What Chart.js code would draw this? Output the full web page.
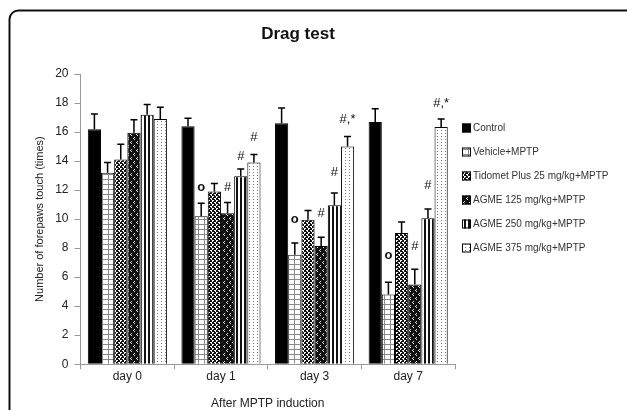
<!DOCTYPE html>
<html lang="en">
<head>
<meta charset="UTF-8">
<title>Drag test</title>
<script src="https://cdn.jsdelivr.net/npm/chart.js"></script>
<style>
  body { margin: 0; background: #fff; }
  #wrap { width: 627px; height: 410px; position: relative; }
</style>
</head>
<body>
<div id="wrap"><canvas id="grafico"></canvas></div>
<script>
// categorias e valores
const dias = ['day 0', 'day 1', 'day 3', 'day 7'];
const grupos = ['Control', 'Vehicle+MPTP', 'Tidomet Plus 25 mg/kg+MPTP',
  'AGME 125 mg/kg+MPTP', 'AGME 250 mg/kg+MPTP', 'AGME 375 mg/kg+MPTP'];

const control  = [16.2, 16.4, 16.6, 16.7];
const vehicle  = [13.2, 10.2, 7.55, 4.8];
const tidomet  = [14.1, 11.9, 9.95, 9.05];
const agme125  = [15.95, 10.4, 8.15, 5.5];
const agme250  = [17.2, 12.95, 10.95, 10.05];
const agme375  = [16.9, 13.9, 15.0, 16.35];

// erro padrão (só a parte de cima)
const errControl = [1.05, 0.55, 1.05, 0.9];
const errVehicle = [0.7, 0.9, 0.8, 0.85];
const errTidomet = [1.05, 0.55, 0.65, 0.75];
const err125     = [0.9, 0.75, 0.6, 1.05];
const err250     = [0.7, 0.5, 0.85, 0.65];
const err375     = [0.8, 0.55, 0.7, 0.55];

// marcas de significância e altura (no eixo y)
const marcaVehicle = ['', 'o', 'o', 'o'];
const alturaVehicle = [null, 12.2, 10.0, 7.5];
const marca125 = ['', '#', '#', '#'];
const altura125 = [null, 12.2, 10.4, 8.1];
const marca250 = ['', '#', '#', '#'];
const altura250 = [null, 14.3, 13.2, 12.3];
const marca375 = ['', '#', '#,*', '#,*'];
const altura375 = [null, 15.6, 16.9, 18.0];

const yTicks = [0, 2, 4, 6, 8, 10, 12, 14, 16, 18, 20];

const fonte = '"Liberation Sans", Arial, sans-serif';

// padrões de preenchimento das barras
function padrao(w, h, desenha) {
  const c = document.createElement('canvas');
  c.width = w; c.height = h;
  const g = c.getContext('2d');
  desenha(g);
  return g.createPattern(c, 'repeat');
}

const pVehicle = padrao(6, 5, g => {
  g.fillStyle = '#fff'; g.fillRect(0, 0, 6, 5);
  g.fillStyle = '#8a8a8a';
  g.fillRect(0, 4, 6, 1);
  g.fillRect(0, 0, 1, 5);
});
const pTidomet = padrao(4, 4, g => {
  g.fillStyle = '#111'; g.fillRect(0, 0, 4, 4);
  g.fillStyle = '#fff';
  g.fillRect(0, 0, 2, 1); g.fillRect(0, 1, 1, 1);
  g.fillRect(2, 2, 2, 1); g.fillRect(3, 3, 1, 1);
});
const p125 = padrao(6, 8, g => {
  g.fillStyle = '#111'; g.fillRect(0, 0, 6, 8);
  g.fillStyle = '#ddd';
  g.fillRect(2, 1, 1, 1); g.fillRect(1, 2, 1, 1); g.fillRect(2, 3, 1, 1);
  g.fillRect(5, 5, 1, 1); g.fillRect(4, 6, 1, 1); g.fillRect(5, 7, 1, 1);
});
const p250 = padrao(4, 1, g => {
  g.fillStyle = '#fff'; g.fillRect(0, 0, 4, 1);
  g.fillStyle = '#111'; g.fillRect(0, 0, 2, 1);
});
const p375 = padrao(4, 3, g => {
  g.fillStyle = '#fff'; g.fillRect(0, 0, 4, 3);
  g.fillStyle = '#777'; g.fillRect(1, 1, 1, 1);
});

const valores = [control, vehicle, tidomet, agme125, agme250, agme375];
const erros = [errControl, errVehicle, errTidomet, err125, err250, err375];
const marcas = [null, marcaVehicle, null, marca125, marca250, marca375];
const alturas = [null, alturaVehicle, null, altura125, altura250, altura375];
const fundos = ['#000', pVehicle, pTidomet, p125, p250, p375];

const datasets = grupos.map((nome, i) => ({
  label: nome,
  data: valores[i],
  backgroundColor: fundos[i],
  borderColor: '#000',
  borderWidth: 1,
  categoryPercentage: 0.845,
  barPercentage: 1
}));

// moldura, título, legenda, barras de erro e marcas
const extras = {
  id: 'extras',
  beforeDraw(chart) {
    const ctx = chart.ctx;
    ctx.save();
    ctx.strokeStyle = '#111';
    ctx.lineWidth = 2;
    ctx.beginPath();
    ctx.roundRect(9.5, 10.5, 630, 430, 9);
    ctx.stroke();
    ctx.fillStyle = '#111';
    ctx.font = 'bold 17px ' + fonte;
    ctx.textAlign = 'center';
    ctx.textBaseline = 'middle';
    ctx.fillText('Drag test', 298, 34);
    ctx.restore();
  },
  afterDatasetsDraw(chart) {
    const ctx = chart.ctx;
    const y = chart.scales.y;
    ctx.save();
    ctx.strokeStyle = '#000';
    ctx.lineWidth = 1.5;
    chart.data.datasets.forEach((ds, i) => {
      const meta = chart.getDatasetMeta(i);
      meta.data.forEach((bar, j) => {
        const topo = y.getPixelForValue(ds.data[j] + erros[i][j]);
        ctx.beginPath();
        ctx.moveTo(bar.x, bar.y);
        ctx.lineTo(bar.x, topo);
        ctx.moveTo(bar.x - 3.5, topo);
        ctx.lineTo(bar.x + 3.5, topo);
        ctx.stroke();
        if (marcas[i] && marcas[i][j]) {
          const t = marcas[i][j];
          ctx.fillStyle = '#111';
          ctx.font = (t === 'o' ? 'bold 13px ' : '13px ') + fonte;
          ctx.textAlign = 'center';
          ctx.textBaseline = 'middle';
          ctx.fillText(t, bar.x, y.getPixelForValue(alturas[i][j]));
        }
      });
    });
    ctx.restore();
  },
  afterDraw(chart) {
    const ctx = chart.ctx;
    ctx.save();
    ctx.font = '10px ' + fonte;
    ctx.textBaseline = 'middle';
    chart.data.datasets.forEach((ds, i) => {
      const yy = 128 + i * 24;
      ctx.fillStyle = ds.backgroundColor;
      ctx.fillRect(462, yy - 4.5, 9, 9);
      ctx.strokeStyle = '#000';
      ctx.lineWidth = 1;
      ctx.strokeRect(462.5, yy - 4, 8, 8);
      ctx.fillStyle = '#333';
      ctx.fillText(ds.label, 473, yy);
    });
    ctx.restore();
  }
};

new Chart(document.getElementById('grafico'), {
  type: 'bar',
  data: { labels: dias, datasets: datasets },
  plugins: [extras],
  options: {
    responsive: true,
    maintainAspectRatio: false,
    animation: false,
    layout: { padding: { top: 74, right: 172, bottom: -1, left: 33 } },
    plugins: {
      legend: { display: false },
      title: { display: false },
      tooltip: { enabled: false }
    },
    scales: {
      x: {
        grid: { drawOnChartArea: false, offset: true, tickLength: 5, color: '#999' },
        border: { color: '#999' },
        ticks: { color: '#222', font: { family: fonte, size: 12 }, padding: 0 },
        title: {
          display: true, text: 'After MPTP induction', color: '#222',
          font: { family: fonte, size: 12 }, padding: { top: 13, bottom: 0 }
        }
      },
      y: {
        min: 0, max: 20,
        afterBuildTicks: ax => { ax.ticks = yTicks.map(v => ({ value: v })); },
        grid: { drawOnChartArea: false, tickLength: 6, color: '#999' },
        border: { color: '#999' },
        ticks: { color: '#222', font: { family: fonte, size: 12 }, padding: 6 },
        title: {
          display: true, text: 'Number of forepaws touch (times)', color: '#222',
          font: { family: fonte, size: 11 }, padding: { top: 0, bottom: 3 }
        }
      }
    }
  }
});
</script>
</body>
</html>
